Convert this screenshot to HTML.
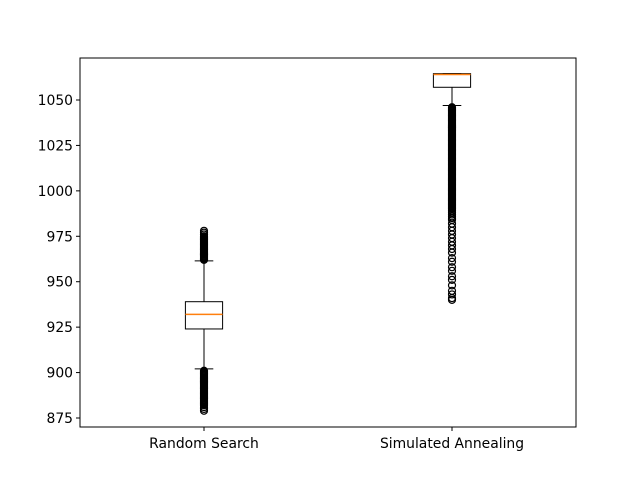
<!DOCTYPE html>
<html><head><meta charset="utf-8"><style>body{margin:0;background:#fff}svg{display:block;font-family:"DejaVu Sans","Liberation Sans",sans-serif}</style></head>
<body>
<svg id="chart" width="640" height="480"></svg>
<script>
const categories = ["Random Search", "Simulated Annealing"];
const q1 = [924, 1057];
const medians = [932, 1064];
const q3 = [939, 1064.5];
const whiskerLow = [902, 1047];
const whiskerHigh = [961.5, 1064.5];
const outliersRS = [879,880,881,882,882.5,883,883.5,884,884.5,885,885.5,886,886.5,887,887.5,888,888.5,889,889.5,890,890.5,891,891.5,892,892.5,893,893.5,894,894.5,895,895.5,896,896.5,897,897.5,898,898.5,899,899.5,900,900.5,901,962,962.5,963,963.5,964,964.5,965,965.5,966,966.5,967,967.5,968,968.5,969,969.5,970,970.5,971,971.5,972,972.5,973,973.5,974,974.5,975,976,977,978];
const outliersSA = [940,941,943,945,948,951,953,956,958,961,963,966,968,970,972,974,976,978,980,982,984,985,986,987,988,989,990,990.5,991,991.5,992,992.5,993,993.5,994,994.5,995,995.5,996,996.5,997,997.5,998,998.5,999,999.5,1000,1000.5,1001,1001.5,1002,1002.5,1003,1003.5,1004,1004.5,1005,1005.5,1006,1006.5,1007,1007.5,1008,1008.5,1009,1009.5,1010,1010.5,1011,1011.5,1012,1012.5,1013,1013.5,1014,1014.5,1015,1015.5,1016,1016.5,1017,1017.5,1018,1018.5,1019,1019.5,1020,1020.5,1021,1021.5,1022,1022.5,1023,1023.5,1024,1024.5,1025,1025.5,1026,1026.5,1027,1027.5,1028,1028.5,1029,1029.5,1030,1030.5,1031,1031.5,1032,1032.5,1033,1033.5,1034,1034.5,1035,1035.5,1036,1036.5,1037,1037.5,1038,1038.5,1039,1039.5,1040,1040.5,1041,1041.5,1042,1042.5,1043,1043.5,1044,1044.5,1045,1045.5,1046];
const outliers = [outliersRS, outliersSA];
const yTicks = [875, 900, 925, 950, 975, 1000, 1025, 1050];

const NS = "http://www.w3.org/2000/svg";
const svg = document.getElementById("chart");
const L = 80, R = 576, T = 58, B = 427;
const y = v => 418 - (v - 875) * (318 / 175);
const x = i => L + (R - L) * (0.25 + 0.5 * i);
function mk(tag, attrs, parent) {
  const e = document.createElementNS(NS, tag);
  for (const k in attrs) e.setAttribute(k, attrs[k]);
  (parent || svg).appendChild(e);
  return e;
}
categories.forEach((c, i) => {
  const g = mk("g", {});
  
  
  const cx = x(i), hw = 18.6, cw = 9.3;
  mk("line", {x1: cx, x2: cx, y1: y(q3[i]), y2: y(whiskerHigh[i]), stroke: "#000"}, g);
  mk("line", {x1: cx, x2: cx, y1: y(q1[i]), y2: y(whiskerLow[i]), stroke: "#000"}, g);
  mk("line", {x1: cx - cw, x2: cx + cw, y1: y(whiskerHigh[i]), y2: y(whiskerHigh[i]), stroke: "#000"}, g);
  mk("line", {x1: cx - cw, x2: cx + cw, y1: y(whiskerLow[i]), y2: y(whiskerLow[i]), stroke: "#000"}, g);
  mk("rect", {x: cx - hw, y: y(q3[i]), width: 2 * hw, height: y(q1[i]) - y(q3[i]), fill: "none", stroke: "#000"}, g);
  mk("line", {x1: cx - hw, x2: cx + hw, y1: y(medians[i]), y2: y(medians[i]), stroke: "#ff7f0e", "stroke-width": 1.5}, g);
  outliers[i].forEach(v => {
    const o = mk("circle", {cx: cx, cy: y(v), r: 3.5, fill: "none", stroke: "#000", "stroke-width": 1.2}, g);
    
    
  });
  const t = mk("text", {x: cx, y: B + 21, "text-anchor": "middle", "font-size": 13.9}, svg);
  t.textContent = c;
  
  
  mk("line", {x1: cx, x2: cx, y1: B, y2: B + 4, stroke: "#000"});
});
yTicks.forEach(v => {
  mk("line", {x1: L - 4, x2: L, y1: y(v), y2: y(v), stroke: "#000"});
  const t = mk("text", {x: L - 7, y: y(v) + 5, "text-anchor": "end", "font-size": 13.9});
  t.textContent = v;
  
  
});
const frame = mk("rect", {x: L, y: T, width: R - L, height: B - T, fill: "none", stroke: "#000"});


</script>
</body></html>
